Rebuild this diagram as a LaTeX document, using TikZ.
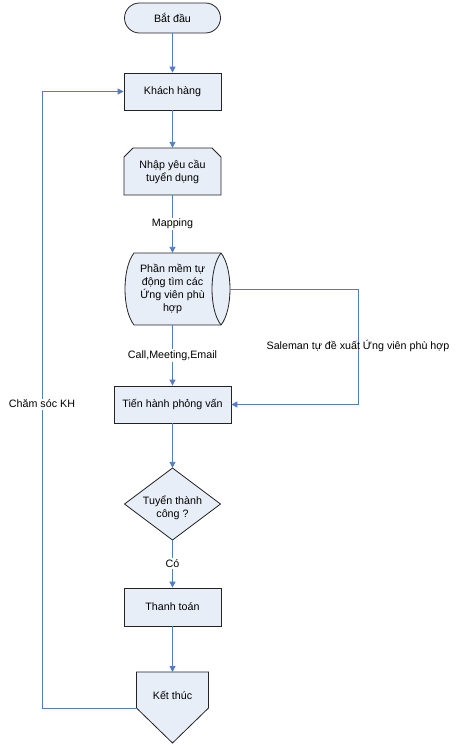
\documentclass[tikz,border=0pt]{standalone}
\usepackage{fontspec}
\setmainfont{Liberation Sans}
\usetikzlibrary{arrows.meta,calc}
\definecolor{boxfill}{RGB}{232,238,247}
\definecolor{boxline}{RGB}{35,35,35}
\definecolor{connc}{RGB}{84,124,192}
\begin{document}
\begin{tikzpicture}[x=1bp,y=-1bp,
  font=\fontsize{10.7bp}{13bp}\selectfont,
  shp/.style={draw=boxline, fill=boxfill, line width=0.8bp},
  box/.style={shp, minimum width=97bp, minimum height=37bp, inner sep=0pt, align=center},
  txt/.style={align=center, inner sep=0pt},
  conn/.style={draw=connc, line width=0.9bp},
  arr/.style={conn, -{Triangle[length=6bp,width=6bp]}},
  lbl/.style={fill=white, inner sep=1.5bp, text=black}]
\useasboundingbox (0,0) rectangle (458,745);

% start
\node[shp, rounded corners=15bp, minimum width=96bp, minimum height=30bp, inner sep=0pt] (start) at (172.5,18) {Bắt đầu};
% customer
\node[box] (kh) at (172.5,91.5) {Khách hàng};
% manual input-like shape with cut top corners
\draw[shp] (124,195) -- (124,157) -- (133,148) -- (212,148) -- (221,157) -- (221,195) -- cycle;
\node[txt, minimum width=97bp, minimum height=47bp] (nhap) at (172.5,171.5) {Nhập yêu cầu\\tuyển dụng};
% storage shape
\draw[shp] (134,253) -- (221,253) .. controls (233,268) and (233,310) .. (221,325) -- (134,325) .. controls (122,310) and (122,268) .. (134,253) -- cycle;
\draw[draw=boxline, line width=0.8bp] (221,253) .. controls (209,268) and (209,310) .. (221,325);
\node[txt, minimum width=100bp, minimum height=72bp] (pm) at (172.5,289) {Phần mềm tự\\động tìm các\\Ứng viên phù\\hợp};
\coordinate (pmE) at (230,289);
% interview
\node[box, minimum width=117bp] (th) at (172.5,404.5) {Tiến hành phỏng vấn};
% decision
\draw[shp] (172.5,468) -- (220.5,504) -- (172.5,540) -- (124.5,504) -- cycle;
\node[txt, minimum width=96bp, minimum height=72bp] (dc) at (172.5,504) {};
\node[txt] (dctext) at (172.5,508) {Tuyển thành\\công ?};
% payment
\node[box, minimum height=38bp] (tt) at (172.5,607) {Thanh toán};
% end (off-page connector)
\draw[shp] (136.5,672) -- (208.5,672) -- (208.5,708) -- (172.5,743) -- (136.5,708) -- cycle;
\node[txt] (kt) at (172.5,695) {Kết thúc};
\coordinate (ktN) at (172.5,672);
\coordinate (ktW) at (136.5,708);
\coordinate (loopL) at (42,708);
\coordinate (loopR) at (358,289);

% connectors
\draw[arr] (start) -- (kh);
\draw[arr] (kh) -- (nhap);
\draw[arr] (nhap) -- node[lbl]{Mapping} (pm);
\draw[arr] (pm) -- node[lbl]{Call,Meeting,Email} (th);
\draw[arr] (th) -- (dc);
\draw[arr] (dc) -- node[lbl]{Có} (tt);
\draw[arr] (tt) -- (ktN);
\draw[arr] (ktW) -- (loopL) |- (kh.west);
\node[lbl] (cs) at (42,404) {Chăm sóc KH};
\draw[arr] (pmE) -- (loopR) |- (th.east);
\node[txt] (sm) at (358,346) {Saleman tự đề xuất Ứng viên phù hợp};
\end{tikzpicture}
\end{document}
